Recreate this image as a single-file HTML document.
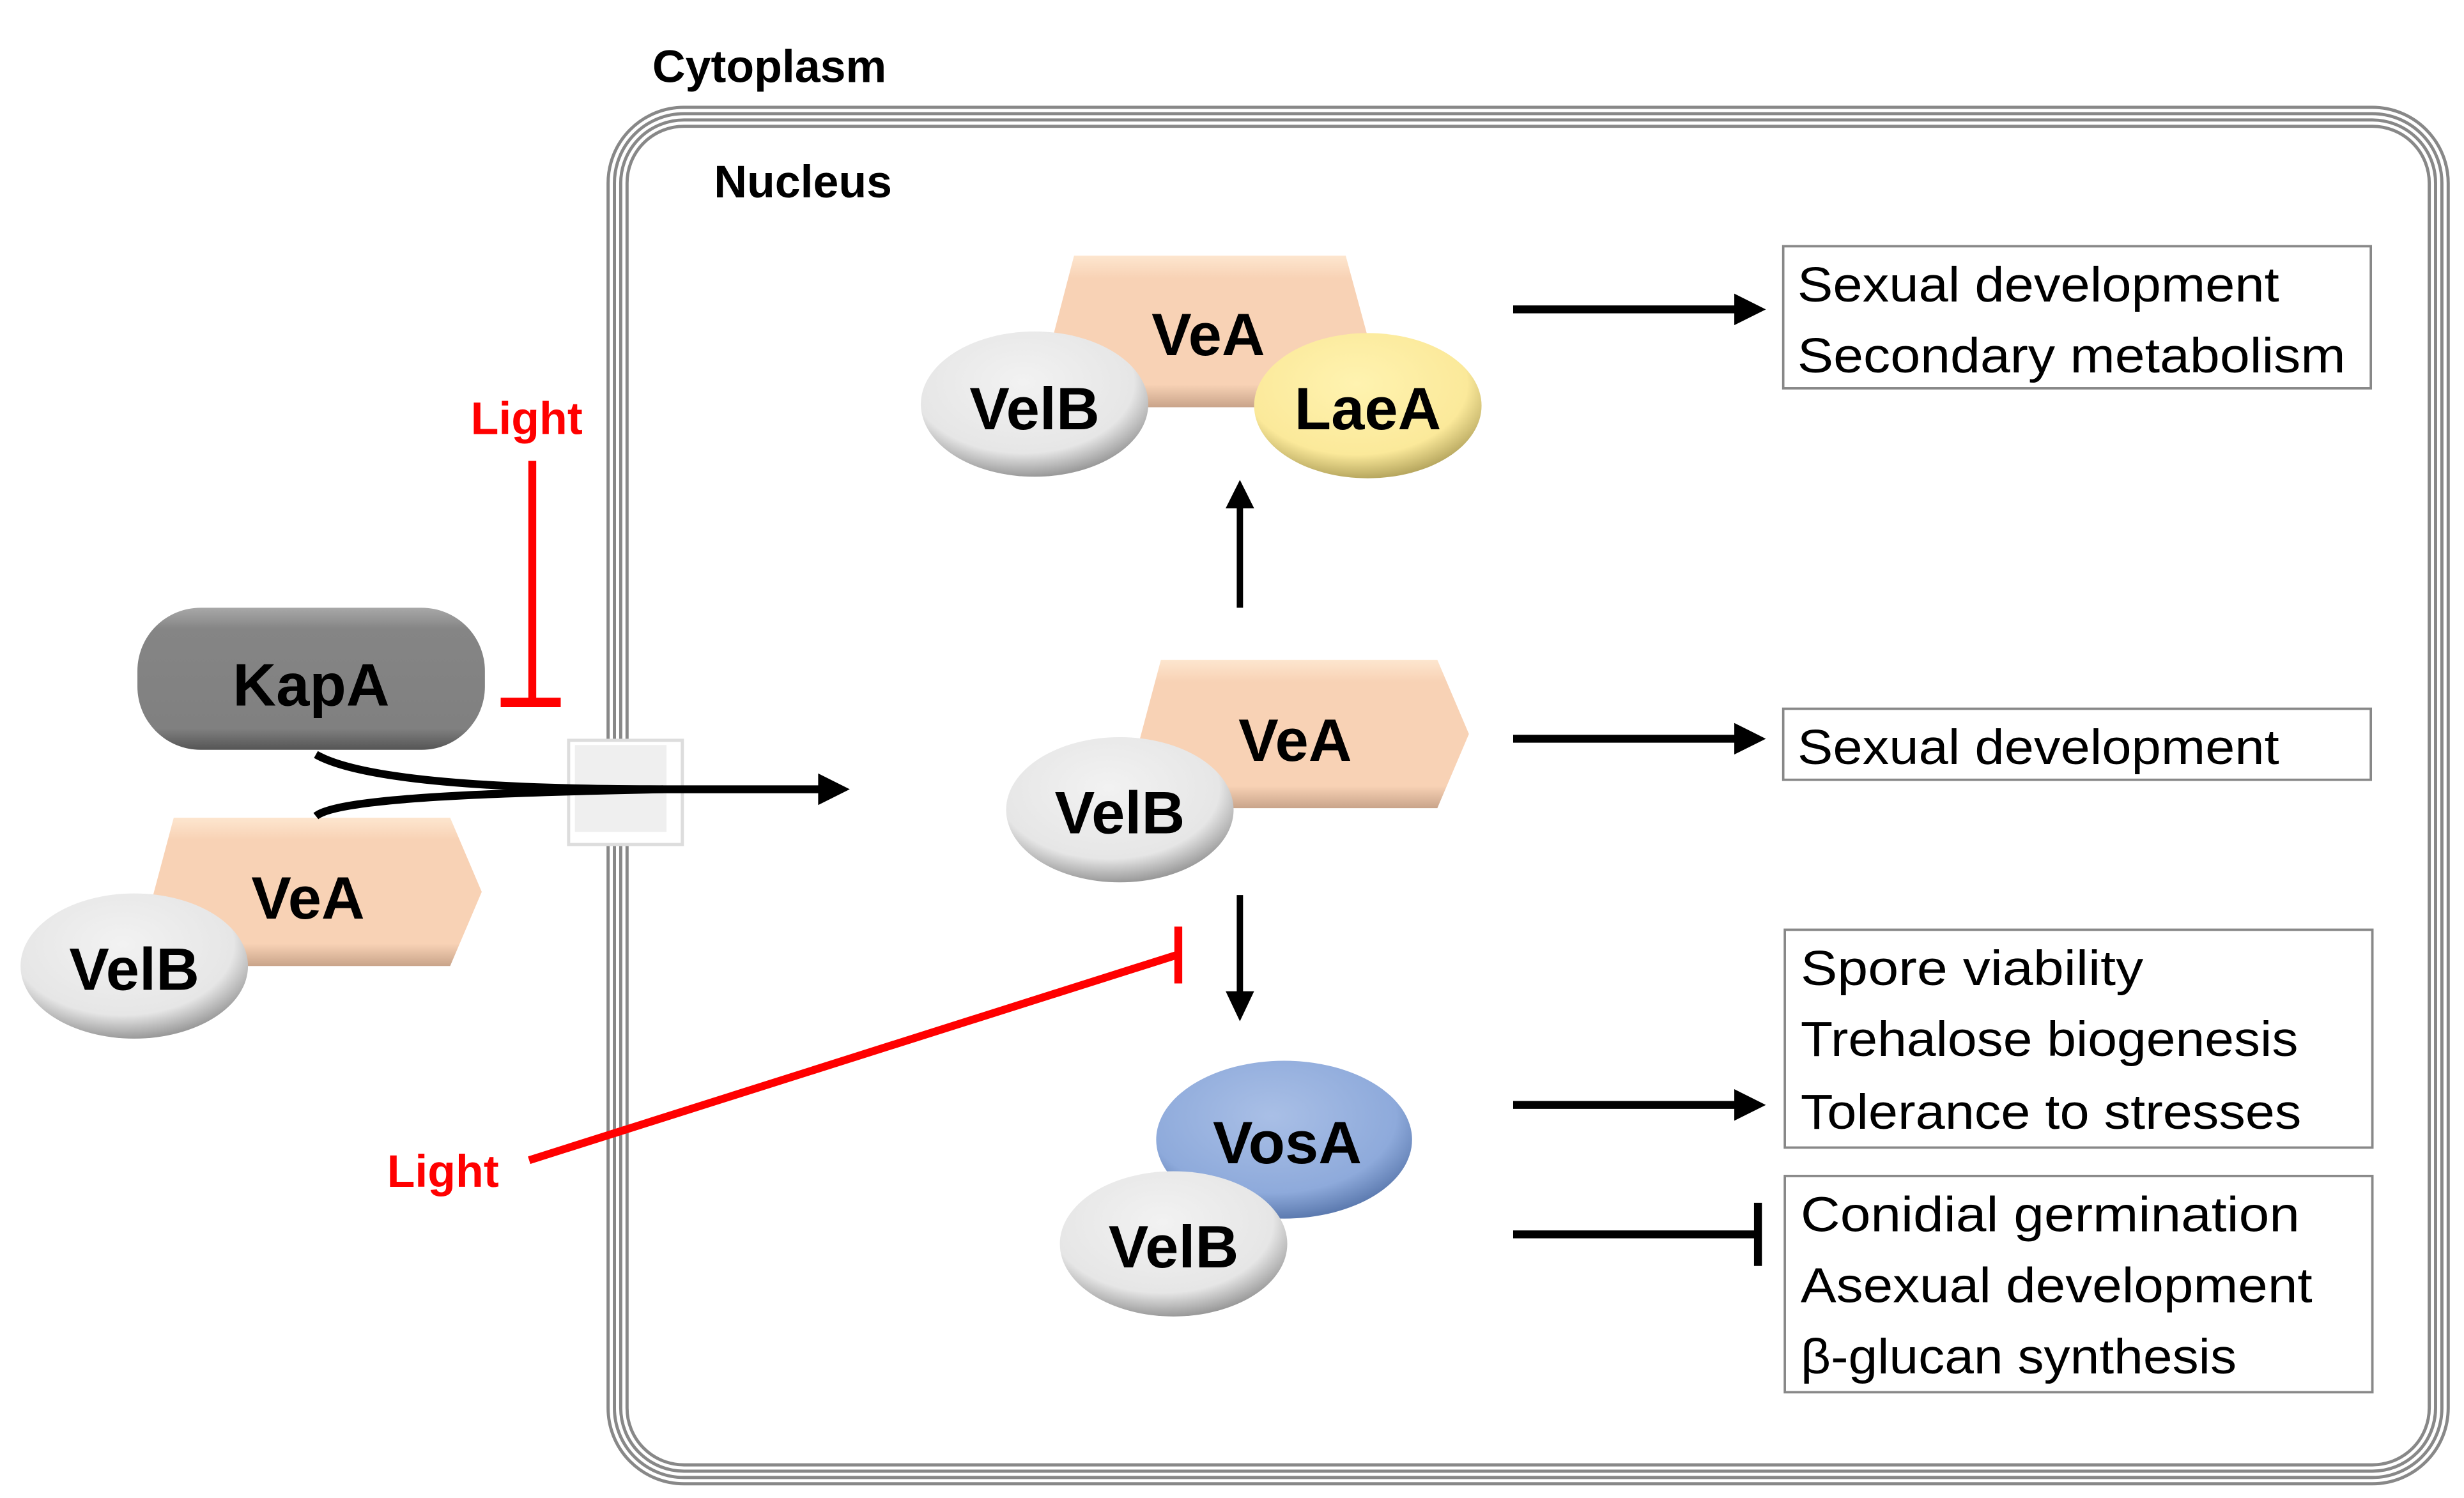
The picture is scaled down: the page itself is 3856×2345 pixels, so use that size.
<!DOCTYPE html>
<html><head><meta charset="utf-8"><style>html,body{margin:0;padding:0;background:#fff}svg{display:block}</style></head>
<body>
<svg width="3856" height="2345" viewBox="0 0 1560 949" preserveAspectRatio="none" xmlns="http://www.w3.org/2000/svg" font-family="Liberation Sans, sans-serif">
<defs>
<radialGradient id="gw" cx="45%" cy="35%" r="65%"><stop offset="0" stop-color="#f2f2f2"/><stop offset="0.75" stop-color="#e6e6e6"/><stop offset="1" stop-color="#9a9a9a"/></radialGradient>
<radialGradient id="gy" cx="45%" cy="35%" r="65%"><stop offset="0" stop-color="#fff3b0"/><stop offset="0.75" stop-color="#fbe99a"/><stop offset="1" stop-color="#b8a860"/></radialGradient>
<radialGradient id="gb" cx="45%" cy="35%" r="65%"><stop offset="0" stop-color="#a9bfe6"/><stop offset="0.75" stop-color="#8eaadb"/><stop offset="1" stop-color="#5d7bb0"/></radialGradient>
<linearGradient id="gp" x1="0" y1="0" x2="0" y2="1"><stop offset="0" stop-color="#fde6cf"/><stop offset="0.15" stop-color="#f8d2b5"/><stop offset="0.85" stop-color="#f8d2b5"/><stop offset="1" stop-color="#c9a48a"/></linearGradient>
<linearGradient id="gk" x1="0" y1="0" x2="0" y2="1"><stop offset="0" stop-color="#a8a8a8"/><stop offset="0.15" stop-color="#858585"/><stop offset="0.85" stop-color="#808080"/><stop offset="1" stop-color="#555"/></linearGradient>
</defs>
<text x="413" y="52" font-size="29" font-weight="bold">Cytoplasm</text>
<g fill="none" stroke="#888" stroke-width="2">
<rect x="385" y="68" width="1165" height="872" rx="48"/>
<rect x="389" y="72" width="1157" height="864" rx="44"/>
<rect x="393" y="76" width="1149" height="856" rx="40"/>
<rect x="397" y="80" width="1141" height="848" rx="36"/>
</g>
<text x="452" y="125" font-size="29" font-weight="bold">Nucleus</text>
<!-- pore -->
<rect x="360" y="469" width="72" height="66" fill="#fff" stroke="#ddd" stroke-width="2"/>
<rect x="364" y="472" width="58" height="55" fill="#efefef"/>
<!-- KapA -->
<rect x="87" y="385" width="220" height="90" rx="40" fill="url(#gk)"/>
<text x="197" y="447" font-size="38" font-weight="bold" text-anchor="middle">KapA</text>
<!-- left VeA -->
<polygon points="110,518 285,518 305,565 285,612 85,612" fill="url(#gp)"/>
<text x="195" y="582" font-size="38" font-weight="bold" text-anchor="middle">VeA</text>
<ellipse cx="85" cy="612" rx="72" ry="46" fill="url(#gw)"/>
<text x="85" y="627" font-size="38" font-weight="bold" text-anchor="middle">VelB</text>
<!-- curves -->
<path d="M200,478 C230,495 320,500 420,500 L520,500" fill="none" stroke="#000" stroke-width="5"/>
<path d="M200,517 C215,505 320,502 420,500" fill="none" stroke="#000" stroke-width="5"/>
<polygon points="518,490 538,500 518,510" fill="#000"/>
<!-- red upper -->
<text x="298" y="275" font-size="29" font-weight="bold" fill="#f00">Light</text>
<line x1="337" y1="292" x2="337" y2="445" stroke="#f00" stroke-width="5"/>
<line x1="317" y1="445" x2="355" y2="445" stroke="#f00" stroke-width="6"/>
<!-- top complex -->
<polygon points="680,162 852,162 878,258 655,258" fill="url(#gp)"/>
<text x="765" y="225" font-size="38" font-weight="bold" text-anchor="middle">VeA</text>
<ellipse cx="655" cy="256" rx="72" ry="46" fill="url(#gw)"/>
<text x="655" y="272" font-size="38" font-weight="bold" text-anchor="middle">VelB</text>
<ellipse cx="866" cy="257" rx="72" ry="46" fill="url(#gy)"/>
<text x="866" y="272" font-size="38" font-weight="bold" text-anchor="middle">LaeA</text>
<!-- up arrow -->
<line x1="785" y1="385" x2="785" y2="318" stroke="#000" stroke-width="4"/>
<polygon points="776,322 785,304 794,322" fill="#000"/>
<!-- middle -->
<polygon points="735,418 910,418 930,465 910,512 710,512" fill="url(#gp)"/>
<text x="820" y="482" font-size="38" font-weight="bold" text-anchor="middle">VeA</text>
<ellipse cx="709" cy="513" rx="72" ry="46" fill="url(#gw)"/>
<text x="709" y="528" font-size="38" font-weight="bold" text-anchor="middle">VelB</text>
<!-- down arrow -->
<line x1="785" y1="567" x2="785" y2="632" stroke="#000" stroke-width="4"/>
<polygon points="776,628 785,647 794,628" fill="#000"/>
<!-- red lower -->
<line x1="335" y1="735" x2="745" y2="605" stroke="#f00" stroke-width="5"/>
<line x1="746" y1="587" x2="746" y2="623" stroke="#f00" stroke-width="5"/>
<text x="245" y="752" font-size="29" font-weight="bold" fill="#f00">Light</text>
<!-- VosA -->
<ellipse cx="813" cy="722" rx="81" ry="50" fill="url(#gb)"/>
<text x="815" y="737" font-size="38" font-weight="bold" text-anchor="middle">VosA</text>
<ellipse cx="743" cy="788" rx="72" ry="46" fill="url(#gw)"/>
<text x="743" y="803" font-size="38" font-weight="bold" text-anchor="middle">VelB</text>
<!-- right arrows -->
<g stroke="#000" stroke-width="5">
<line x1="958" y1="196" x2="1100" y2="196"/>
<line x1="958" y1="468" x2="1100" y2="468"/>
<line x1="958" y1="700" x2="1100" y2="700"/>
<line x1="958" y1="782" x2="1112" y2="782"/>
<line x1="1113" y1="762" x2="1113" y2="802"/>
</g>
<g fill="#000">
<polygon points="1098,186 1118,196 1098,206"/>
<polygon points="1098,458 1118,468 1098,478"/>
<polygon points="1098,690 1118,700 1098,710"/>
</g>
<!-- boxes -->
<g fill="#fff" stroke="#888" stroke-width="1.5">
<rect x="1129" y="156" width="372" height="90"/>
<rect x="1129" y="449" width="372" height="45"/>
<rect x="1130" y="589" width="372" height="138"/>
<rect x="1130" y="745" width="372" height="137"/>
</g>
<g font-size="31" fill="#000">
<text x="1138" y="191" textLength="305" lengthAdjust="spacingAndGlyphs">Sexual development</text>
<text x="1138" y="236" textLength="347" lengthAdjust="spacingAndGlyphs">Secondary metabolism</text>
<text x="1138" y="484" textLength="305" lengthAdjust="spacingAndGlyphs">Sexual development</text>
<text x="1140" y="624" textLength="217" lengthAdjust="spacingAndGlyphs">Spore viability</text>
<text x="1140" y="669" textLength="315" lengthAdjust="spacingAndGlyphs">Trehalose biogenesis</text>
<text x="1140" y="715" textLength="317" lengthAdjust="spacingAndGlyphs">Tolerance to stresses</text>
<text x="1140" y="780" textLength="316" lengthAdjust="spacingAndGlyphs">Conidial germination</text>
<text x="1140" y="825" textLength="324" lengthAdjust="spacingAndGlyphs">Asexual development</text>
<text x="1140" y="870" textLength="276" lengthAdjust="spacingAndGlyphs">β-glucan synthesis</text>
</g>
</svg>
</body></html>
